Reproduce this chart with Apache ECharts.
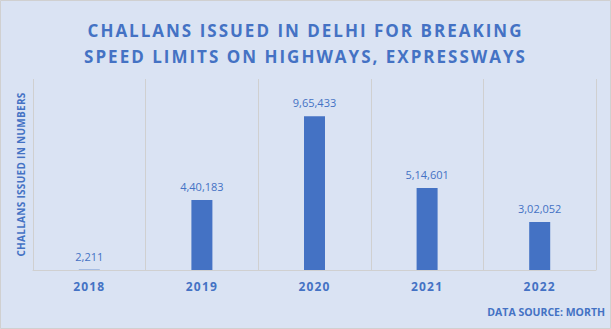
<!DOCTYPE html>
<html><head><meta charset="utf-8">
<script src="https://cdn.jsdelivr.net/npm/echarts@6/dist/echarts.min.js"></script>
<style>
html,body{margin:0;padding:0;background:#dae3f3;}#c{width:611px;height:329px;}
#c text[style*="17px"]{letter-spacing:2px;}
#c text[style*="12px"]{letter-spacing:1.2px;}
#c text[style*="10px"]{letter-spacing:0.3px;}
</style>
</head><body><div id="c"></div>
<script>
const categories = ['2018','2019','2020','2021','2022'];
const challans = [2211, 440183, 965433, 514601, 302052];
const titleText = 'CHALLANS ISSUED IN DELHI FOR BREAKING\nSPEED LIMITS ON HIGHWAYS, EXPRESSWAYS';
const yAxisTitle = 'CHALLANS ISSUED IN NUMBERS';
const sourceText = 'DATA SOURCE: MORTH';

function indianFormat(n){
  const s = String(n);
  if (s.length <= 3) return s;
  const last3 = s.slice(-3);
  let rest = s.slice(0, -3);
  const parts = [];
  while (rest.length > 2) { parts.unshift(rest.slice(-2)); rest = rest.slice(0, -2); }
  if (rest.length) parts.unshift(rest);
  return parts.join(',') + ',' + last3;
}

const chart = echarts.init(document.getElementById('c'), null, {renderer:'svg'});
const blue = '#4472c4';
chart.setOption({
  backgroundColor: '#dae3f3',
  animation: false,
  title: {
    text: titleText, left: 'center', top: 12,
    textStyle: {fontFamily: 'Open Sans', fontWeight: 'bold', fontSize: 17, color: blue, lineHeight: 26}
  },
  graphic: [
    {type:'rect', shape:{x:0.5,y:0.5,width:610,height:328}, style:{fill:null, stroke:'#d0d0d0', lineWidth:1}, silent:true},
    {type:'text', right: 6, top: 306, style:{text: sourceText, font: 'bold 10.5px "Open Sans"', fill: blue}}
  ],
  grid: {left: 33, right: 15, top: 79, bottom: 59},
  xAxis: {
    type: 'category', data: categories,
    axisLine: {lineStyle: {color: '#d0d0d0'}},
    axisTick: {show: false},
    splitLine: {show: true, lineStyle: {color: '#d0d0d0'}},
    axisLabel: {color: blue, fontFamily: 'Open Sans', fontWeight: 'bold', fontSize: 12, margin: 10}
  },
  yAxis: {
    type: 'value', min: 0, max: 1200000,
    axisLabel: {show: false}, splitLine: {show: false}, axisLine: {show: false}, axisTick: {show: false},
    name: yAxisTitle, nameLocation: 'middle', nameGap: 7, nameRotate: 90,
    nameTextStyle: {color: blue, fontFamily: 'Open Sans', fontWeight: 'bold', fontSize: 10}
  },
  series: [{
    type: 'bar', data: challans, barWidth: 21,
    itemStyle: {color: blue},
    label: {show: true, position: 'top', distance: 8, color: blue, fontFamily: 'Open Sans', fontSize: 11,
      formatter: p => indianFormat(p.value)}
  }]
});
</script></body></html>
